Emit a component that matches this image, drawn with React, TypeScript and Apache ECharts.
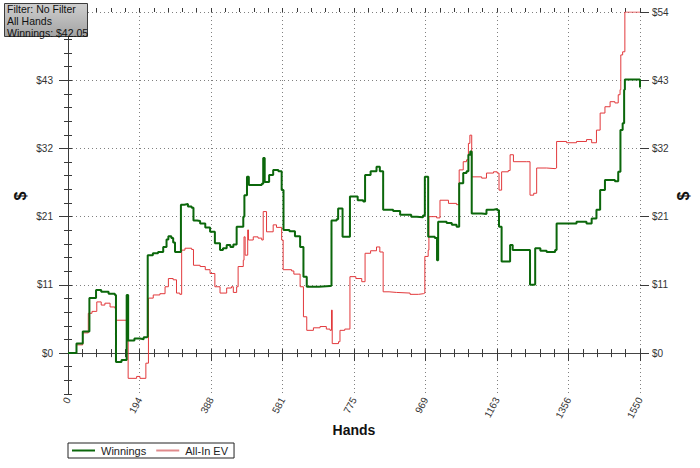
import React, { useEffect, useRef } from "react";
import * as echarts from "echarts";

// ---- data ----
const xTickLabels = ["0", "194", "388", "581", "775", "969", "1163", "1356", "1550"];
const yTickLabels = ["$0", "$11", "$21", "$32", "$43", "$54"];
const infoLines = ["Filter: No Filter", "All Hands", "Winnings: $42.05"];
const seriesNames = ["Winnings", "All-In EV"];

const winHands = [
  0, 23, 40, 58, 76, 90, 110, 127, 130, 145, 159, 163, 180, 195, 205, 213, 216, 230, 244, 258,
  267, 272, 280, 285, 290, 306, 315, 325, 335, 340, 350, 358, 372, 385, 398, 412, 420, 430, 440, 448,
  457, 475, 478, 485, 490, 510, 525, 529, 533, 545, 556, 570, 579, 584, 600, 615, 629, 638, 647, 680,
  710, 714, 728, 732, 744, 764, 785, 800, 805, 820, 836, 845, 854, 881, 900, 930, 945, 962, 967, 976,
  994, 1000, 1003, 1026, 1040, 1053, 1060, 1071, 1080, 1085, 1090, 1094, 1121, 1134, 1153, 1163, 1168, 1175, 1193, 1198,
  1205, 1243, 1252, 1262, 1266, 1280, 1297, 1320, 1324, 1351, 1378, 1405, 1419, 1432, 1442, 1455, 1482, 1491, 1497, 1503,
  1507, 1509, 1545, 1550,
];
const winValues = [
  0, 1.5, 3.4, 8.7, 10.0, 9.7, 9.4, 9.2, -1.4, -1.1, 9.2, 2.0, 2.3, 2.2, 2.5, 2.6, 15.5, 15.8, 16.0, 16.8,
  18.0, 18.5, 18.2, 17.5, 16.0, 23.5, 23.6, 23.2, 23.0, 21.0, 20.9, 20.5, 19.9, 19.2, 17.4, 16.3, 16.6, 17.1, 16.8, 17.2,
  20.0, 21.6, 25.0, 27.9, 26.6, 26.6, 26.8, 30.9, 27.1, 28.2, 29.0, 28.8, 25.8, 19.5, 19.3, 18.5, 16.8, 12.1, 10.5, 10.6,
  10.7, 21.0, 21.2, 22.9, 18.4, 24.8, 24.2, 24.0, 28.2, 28.8, 29.5, 28.8, 22.7, 22.5, 21.9, 21.6, 21.5, 21.8, 27.9, 18.4,
  18.2, 14.7, 20.8, 20.6, 20.3, 20.0, 26.9, 28.5, 28.8, 31.4, 31.9, 22.1, 22.0, 22.7, 22.8, 22.6, 20.0, 14.5, 14.5, 17.1,
  16.3, 16.3, 10.8, 10.9, 16.6, 16.2, 16.0, 16.3, 20.5, 20.5, 20.8, 20.5, 21.3, 22.7, 25.8, 27.4, 27.2, 28.7, 35.3, 36.4,
  41.7, 43.3, 43.3, 42.05,
];

const evHands = [
  0, 23, 40, 55, 65, 78, 90, 100, 114, 127, 130, 159, 163, 186, 195, 211, 218, 231, 249, 263,
  272, 285, 294, 303, 308, 317, 335, 340, 358, 372, 385, 398, 412, 430, 443, 448, 457, 461, 475, 477,
  480, 487, 489, 502, 515, 525, 529, 538, 556, 565, 579, 583, 606, 612, 629, 638, 647, 665, 683, 700,
  710, 714, 716, 733, 737, 750, 764, 780, 796, 805, 820, 836, 845, 854, 870, 890, 927, 950, 963, 967,
  976, 978, 999, 1008, 1031, 1053, 1060, 1071, 1080, 1085, 1089, 1094, 1121, 1134, 1153, 1163, 1168, 1175, 1193, 1198,
  1207, 1243, 1252, 1262, 1270, 1297, 1320, 1324, 1351, 1378, 1405, 1419, 1432, 1442, 1455, 1469, 1482, 1491, 1496, 1498,
  1503, 1509, 1550,
];
const evValues = [
  0, 1.3, 3.2, 6.3, 6.6, 8.1, 7.6, 7.9, 7.3, 7.1, 5.2, 5.75, -4.0, -3.7, -4.0, -1.6, 8.7, 9.2, 9.4, 10.5,
  11.8, 11.6, 9.5, 9.3, 16.3, 16.6, 16.4, 13.9, 13.7, 13.2, 12.6, 10.5, 9.5, 10.3, 10.5, 9.6, 10.5, 13.7, 14.7, 18.4,
  15.5, 19.5, 17.9, 18.4, 18.2, 17.9, 22.4, 19.2, 20.3, 19.9, 17.9, 13.2, 13.0, 12.5, 10.5, 5.75, 3.6, 4.0, 4.2, 3.8,
  3.6, 6.8, 1.5, 1.8, 3.6, 3.8, 12.1, 11.8, 11.3, 15.8, 16.2, 16.8, 16.0, 9.7, 9.6, 9.5, 9.3, 9.4, 9.5, 15.3,
  16.3, 21.6, 21.4, 24.2, 23.7, 23.5, 29.0, 30.3, 30.6, 33.2, 34.5, 27.9, 27.7, 28.5, 28.7, 28.5, 25.8, 28.7, 28.9, 31.4,
  30.3, 30.3, 25.0, 25.3, 29.3, 29.2, 29.3, 33.5, 33.3, 33.5, 33.8, 33.3, 35.3, 38.0, 39.0, 39.8, 39.6, 40.9, 41.7, 47.2,
  47.7, 54, 54,
];

const X_MAX = 1550;
const Y_MIN = -6.48;
const Y_MAX = 54;
const X_MAJOR = X_MAX / 8;
const X_MINOR = X_MAJOR / 5;
const Y_MAJOR = Y_MAX / 5;
const Y_MINOR = Y_MAJOR / 5;

const FONT = "Liberation Sans";
const AXIS_COLOR = "#3a3a3a";
const GREEN = "#0b670b";
const RED = "#e2393c";

export default function App() {
  const ref = useRef<HTMLDivElement>(null);

  useEffect(() => {
    if (!ref.current) return;
    const chart = echarts.init(ref.current, null, { renderer: "svg" });

    const winData = winHands.map((h, i) => [h, winValues[i]]);
    const evData = evHands.map((h, i) => [h, evValues[i]]);

    const baseX = { type: "value", min: 0, max: X_MAX, gridIndex: 0 };
    const baseY = { type: "value", min: Y_MIN, max: Y_MAX, gridIndex: 0 };
    const noLine = { show: false };
    const noLabel = { show: false };
    const noSplit = { show: false };
    const tickStyle = { color: AXIS_COLOR, width: 1 };
    const lineStyle = { color: AXIS_COLOR, width: 1 };
    const dotted = { show: true, lineStyle: { color: "#808080", width: 1, type: [1, 3] } };

    const option: any = {
      animation: false,
      backgroundColor: "#ffffff",
      grid: [
        { left: 68, top: 12, width: 572, height: 382 },
        { left: 68, top: 12, width: 572, height: 341 },
      ],
      xAxis: [
        { ...baseX, position: "bottom", interval: X_MINOR, axisLine: { show: true, lineStyle }, axisTick: { show: true, inside: true, length: 4, lineStyle: tickStyle }, axisLabel: noLabel, splitLine: noSplit },
        { ...baseX, position: "bottom", interval: X_MINOR, axisLine: noLine, axisTick: { show: true, length: 4, lineStyle: tickStyle }, axisLabel: noLabel, splitLine: noSplit },
        {
          ...baseX, position: "bottom", interval: X_MAJOR, axisLine: noLine,
          axisTick: { show: true, length: 8, lineStyle: tickStyle },
          axisLabel: {
            show: true, rotate: 62, margin: 4, fontFamily: FONT, fontSize: 10, color: "#333",
            formatter: (v: number) => xTickLabels[Math.round(v / X_MAJOR)] ?? "",
          },
          splitLine: dotted,
          name: "Hands", nameLocation: "middle", nameGap: 29, nameMoveOverlap: false,
          nameTextStyle: { fontFamily: FONT, fontSize: 14, fontWeight: "bold", color: "#111" },
        },
        { ...baseX, position: "top", interval: X_MINOR, axisLine: { show: true, lineStyle }, axisTick: { show: true, inside: true, length: 4, lineStyle: tickStyle }, axisLabel: noLabel, splitLine: noSplit },
        { ...baseX, position: "top", interval: X_MINOR, axisLine: noLine, axisTick: { show: true, length: 4, lineStyle: tickStyle }, axisLabel: noLabel, splitLine: noSplit },
        { type: "value", min: 0, max: X_MAX, gridIndex: 1, position: "bottom", axisLine: { show: true, lineStyle: { color: "#444", width: 1 } }, axisTick: { show: false }, axisLabel: noLabel, splitLine: noSplit },
      ],
      yAxis: [
        { ...baseY, position: "left", interval: Y_MINOR, axisLine: { show: true, lineStyle }, axisTick: { show: true, length: 4, lineStyle: tickStyle }, axisLabel: noLabel, splitLine: noSplit },
        { ...baseY, position: "left", interval: Y_MINOR, axisLine: noLine, axisTick: { show: true, inside: true, length: 4, lineStyle: tickStyle }, axisLabel: noLabel, splitLine: noSplit },
        { ...baseY, position: "right", interval: Y_MINOR, axisLine: { show: true, lineStyle }, axisTick: { show: true, length: 4, lineStyle: tickStyle }, axisLabel: noLabel, splitLine: noSplit },
        { ...baseY, position: "right", interval: Y_MINOR, axisLine: noLine, axisTick: { show: true, inside: true, length: 4, lineStyle: tickStyle }, axisLabel: noLabel, splitLine: noSplit },
        {
          type: "value", gridIndex: 1, min: 0, max: Y_MAX, interval: Y_MAJOR, position: "left",
          axisLine: noLine, axisTick: { show: true, length: 9, lineStyle: tickStyle },
          axisLabel: {
            show: true, margin: 15, fontFamily: FONT, fontSize: 10, color: "#333",
            // the top-left label sits under the info box in the reference
            formatter: (v: number) => (Math.round(v / Y_MAJOR) === 5 ? "" : yTickLabels[Math.round(v / Y_MAJOR)] ?? ""),
          },
          splitLine: dotted,
        },
        {
          type: "value", gridIndex: 1, min: 0, max: Y_MAX, interval: Y_MAJOR, position: "right",
          axisLine: noLine, axisTick: { show: true, length: 9, lineStyle: tickStyle },
          axisLabel: { show: true, margin: 12, fontFamily: FONT, fontSize: 10, color: "#333", formatter: (v: number) => yTickLabels[Math.round(v / Y_MAJOR)] ?? "" },
          splitLine: noSplit,
        },
      ],
      legend: {
        left: 68, top: 443, orient: "horizontal",
        data: [
          { name: seriesNames[0], icon: "rect" },
          { name: seriesNames[1], icon: "rect" },
        ],
        itemWidth: 23, itemHeight: 2, itemGap: 10,
        padding: [2, 6, 2, 4],
        borderColor: "#222", borderWidth: 1,
        textStyle: { fontFamily: FONT, fontSize: 11, color: "#222", padding: [0, 0, 0, 1] },
        selectedMode: false,
      },
      series: [
        {
          name: seriesNames[1], type: "line", xAxisIndex: 0, yAxisIndex: 0, step: "end",
          data: evData, showSymbol: false, z: 3,
          lineStyle: { color: RED, width: 1 }, itemStyle: { color: "#e08a8c" },
        },
        {
          name: seriesNames[0], type: "line", xAxisIndex: 0, yAxisIndex: 0, step: "end",
          data: winData, showSymbol: false, z: 4,
          lineStyle: { color: GREEN, width: 2 }, itemStyle: { color: GREEN },
        },
      ],
      graphic: [
        {
          type: "rect", z: 100, shape: { x: 4.5, y: 3.5, width: 83, height: 33 },
          style: {
            fill: new echarts.graphic.LinearGradient(0, 0, 0, 1, [
              { offset: 0, color: "#cfcfcf" },
              { offset: 1, color: "#a3a3a3" },
            ]),
            stroke: "#3c3c3c", lineWidth: 1,
          },
        },
        ...infoLines.map((t, i) => ({
          type: "text", z: 101, x: 7, y: 3 + i * 12,
          style: { text: t, fontFamily: FONT, fontSize: 10.5, fill: "#111", verticalAlign: "top", align: "left" },
        })),
        {
          type: "text", x: 20, y: 196, rotation: Math.PI / 2,
          style: { text: "$", fontFamily: FONT, fontSize: 16, fontWeight: "bold", fill: "#111", align: "center", verticalAlign: "middle" },
        },
        {
          type: "text", x: 683, y: 196, rotation: Math.PI / 2,
          style: { text: "$", fontFamily: FONT, fontSize: 16, fontWeight: "bold", fill: "#111", align: "center", verticalAlign: "middle" },
        },
      ],
    };

    chart.setOption(option);
    return () => chart.dispose();
  }, []);

  return (
    <div
      ref={ref}
      style={{ position: "absolute", left: 0, top: 0, width: 700, height: 468, background: "#fff" }}
    />
  );
}
